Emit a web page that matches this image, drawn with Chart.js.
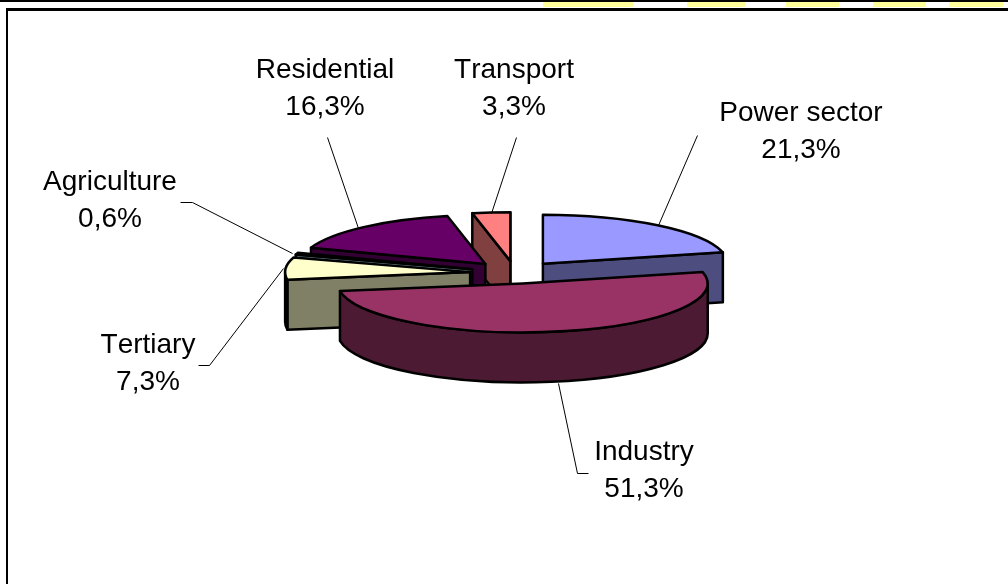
<!DOCTYPE html>
<html><head><meta charset="utf-8">
<style>html,body{margin:0;padding:0;background:#fff}canvas{display:block}</style>
<script src="https://cdn.jsdelivr.net/npm/chart.js@4"></script>
</head><body><canvas id="c" width="1008" height="584"></canvas>
<script>
const categories = ['Power sector','Industry','Tertiary','Agriculture','Residential','Transport'];
const values = [21.3,51.3,7.3,0.6,16.3,3.3];
const valueLabels = ['21,3%','51,3%','7,3%','0,6%','16,3%','3,3%'];
const topColors = ['#9999FF','#993366','#FFFFCC','#CCFFFF','#660066','#FF8080'];
const sideColors = ['#4D4D80','#4D1A33','#808066','#668080','#330033','#804040'];
const explode = [45,40,45,45,45,45];
const labelCenters = [[801,113],[644,452],[148,345],[110,182],[325,70],[514,70]];
const leaders = [
 [[697,135],[658,225]],
 [[558,383],[577,473],[588,473]],
 [[198,365],[209,365],[283,268]],
 [[180,202],[192,202],[292,253]],
 [[327,137],[358,228]],
 [[516,137],[491,213]]
];
const tilt = 49/185, depth = 50;

const pie3d = {
 id:'pie3d',
 beforeDraw(chart){
  const c = chart.ctx;
  c.save();
  c.fillStyle='#fff'; c.fillRect(0,0,1008,584);
  c.fillStyle='#000'; c.fillRect(0,0,1008,2);
  c.fillStyle='#FFFF99';
  [[543,90],[687,58],[786,53],[873,53],[949,54]].forEach(r=>c.fillRect(r[0],2,r[1],5));
  c.fillStyle='#000';
  c.fillRect(6,8,1002,3); c.fillRect(6,8,2,576);
  c.restore();
 },
 beforeDatasetsDraw(chart){
  const c = chart.ctx, arcs = chart.getDatasetMeta(0).data;
  const geo = arcs.map((a,i)=>{
   const p = a.getProps(['x','y','startAngle','endAngle','outerRadius'],true);
   const mid=(p.startAngle+p.endAngle)/2, off=a.options.offset;
   return {i,s:p.startAngle,e:p.endAngle,r:p.outerRadius,ry:p.outerRadius*tilt,
     x:p.x+off*Math.cos(mid), y:p.y+off*Math.sin(mid)*tilt, m:Math.sin(mid)};
  }).sort((a,b)=>a.m-b.m);
  c.save();
  c.lineJoin='round'; c.lineWidth=2.5; c.strokeStyle='#000';
  const paint=(col)=>{c.fillStyle=col;c.fill();c.stroke();};
  const face=(g,a)=>{
   const px=g.x+g.r*Math.cos(a), py=g.y+g.ry*Math.sin(a);
   c.beginPath();c.moveTo(g.x,g.y);c.lineTo(px,py);c.lineTo(px,py+depth);c.lineTo(g.x,g.y+depth);c.closePath();
   paint(sideColors[g.i]);
  };
  geo.forEach(g=>{
   if(-Math.cos(g.s)>0) face(g,g.s);
   if(Math.cos(g.e)>0) face(g,g.e);
   const two=Math.PI*2;
   for(let k=-1;k<=1;k++){
    const lo=Math.max(g.s,k*two), hi=Math.min(g.e,k*two+Math.PI);
    if(hi>lo){
     c.beginPath();
     c.ellipse(g.x,g.y,g.r,g.ry,0,lo,hi);
     c.ellipse(g.x,g.y+depth,g.r,g.ry,0,hi,lo,true);
     c.closePath();
     paint(sideColors[g.i]);
    }
   }
   c.beginPath();c.moveTo(g.x,g.y);c.ellipse(g.x,g.y,g.r,g.ry,0,g.s,g.e);c.closePath();
   paint(topColors[g.i]);
  });
  c.restore();
  return false;
 },
 afterDraw(chart){
  const c = chart.ctx;
  c.save();
  c.strokeStyle='#000';c.lineWidth=1;
  leaders.forEach(l=>{c.beginPath();l.forEach((p,i)=>i?c.lineTo(p[0]+.5,p[1]+.5):c.moveTo(p[0]+.5,p[1]+.5));c.stroke();});
  c.fillStyle='#000';c.font='28px "Liberation Sans"';c.fontKerning='none';c.textAlign='center';c.textBaseline='middle';
  categories.forEach((n,i)=>{
   c.fillText(n,labelCenters[i][0],labelCenters[i][1]);
   c.fillText(valueLabels[i],labelCenters[i][0],labelCenters[i][1]+37);
  });
  c.restore();
 }
};

new Chart(document.getElementById('c'),{
 type:'pie',
 data:{labels:categories,datasets:[{data:values,backgroundColor:topColors,borderColor:'#000',borderWidth:2,offset:explode}]},
 options:{
  responsive:false,animation:false,radius:185,
  layout:{padding:{left:22,bottom:38}},
  plugins:{legend:{display:false},tooltip:{enabled:false}}
 },
 plugins:[pie3d]
});
</script></body></html>
